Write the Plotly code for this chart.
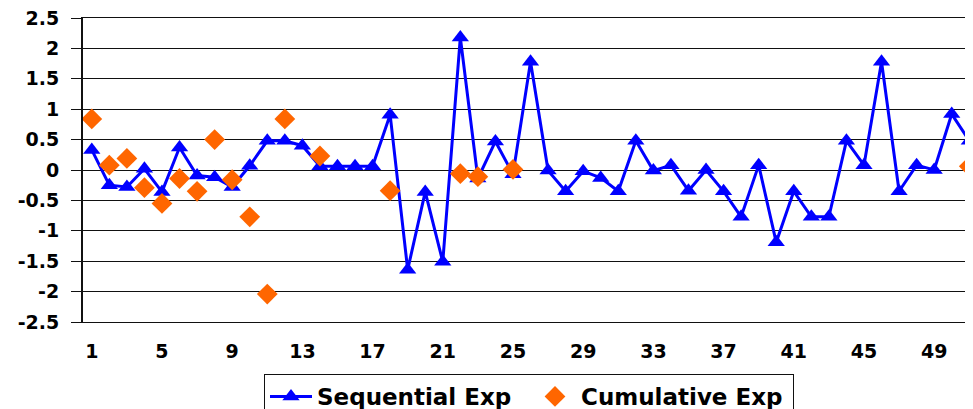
import plotly.graph_objects as go

# categories 1..51 (chart is cropped at the right edge)
categories = list(range(1, 52))

sequential_exp = [0.33, -0.25, -0.28, 0.02, -0.36, 0.37, -0.09, -0.12, -0.28, 0.07,
                  0.48, 0.48, 0.40, 0.06, 0.06, 0.06, 0.06, 0.91, -1.64, -0.36,
                  -1.51, 2.18, -0.14, 0.47, -0.07, 1.78, -0.01, -0.35, -0.02, -0.13,
                  -0.35, 0.48, -0.01, 0.08, -0.34, 0.0, -0.35, -0.77, 0.08, -1.19,
                  -0.35, -0.77, -0.77, 0.48, 0.08, 1.78, -0.35, 0.08, 0.0, 0.92, 0.48]

cumulative_exp = [0.84, 0.08, 0.19, -0.29, -0.55, -0.14, -0.35, 0.50, -0.16, -0.77,
                  -2.04, 0.84, None, 0.23, None, None, None, -0.34, None, None,
                  None, -0.06, -0.11, None, 0.01] + [None] * 25 + [0.06]

x_tickvals = [1, 5, 9, 13, 17, 21, 25, 29, 33, 37, 41, 45, 49]
y_tickvals = [2.5, 2, 1.5, 1, 0.5, 0, -0.5, -1, -1.5, -2, -2.5]
y_ticktext = ["2.5", "2", "1.5", "1", "0.5", "0", "-0.5", "-1", "-1.5", "-2", "-2.5"]

FONT = "DejaVu Sans"
LINE = "#111111"
x_range = [0.5, 0.5 + 890 / 17.55]

fig = go.Figure()

fig.add_trace(go.Scatter(
    x=categories,
    y=sequential_exp,
    mode="lines+markers",
    name="Sequential Exp",
    line=dict(color="#0000FF", width=3),
    marker=dict(symbol="triangle-up", size=15, color="#0000FF"),
))

fig.add_trace(go.Scatter(
    x=categories,
    y=cumulative_exp,
    mode="markers",
    name="Cumulative Exp",
    marker=dict(symbol="diamond", size=16, color="#FF6600"),
))

# page body has an 8px margin, so the figure is sized/placed to compensate
fig.update_layout(
    width=965,
    height=401,
    margin=dict(l=75, r=0, t=10, b=87, autoexpand=False),
    paper_bgcolor="white",
    plot_bgcolor="white",
    showlegend=True,
    legend=dict(
        orientation="h",
        x=(264 - 83) / 890, xanchor="left",
        y=-(374 - 322) / 304, yanchor="top",
        bordercolor=LINE, borderwidth=1,
        itemwidth=42,
        entrywidth=207,
        font=dict(family=FONT, size=23, color="black", weight="bold"),
        itemsizing="trace",
    ),
    xaxis=dict(
        range=x_range,
        tickvals=x_tickvals,
        ticks="",
        showgrid=False,
        zeroline=False,
        showline=True, linecolor=LINE, linewidth=1, mirror=True,
        ticklabelstandoff=12,
        ticklabeloverflow="allow",
        tickfont=dict(family=FONT, size=19, color="black", weight="bold"),
    ),
    # tick marks sitting on the zero line, between categories
    xaxis2=dict(
        overlaying="x",
        anchor="free",
        position=0.5,
        range=x_range,
        tickvals=[c + 0.5 for c in categories],
        ticks="outside", ticklen=5, tickwidth=1, tickcolor=LINE,
        showticklabels=False,
        showgrid=False,
        zeroline=False,
        showline=False,
    ),
    yaxis=dict(
        range=[-2.5, 2.5],
        tickvals=y_tickvals,
        ticktext=y_ticktext,
        ticks="outside", ticklen=10, tickcolor=LINE, tickwidth=1,
        showgrid=True, gridcolor=LINE, gridwidth=1,
        zeroline=True, zerolinecolor=LINE, zerolinewidth=1,
        showline=True, linecolor=LINE, linewidth=2,
        ticklabelstandoff=8,
        ticklabeloverflow="allow",
        tickfont=dict(family=FONT, size=19, color="black", weight="bold"),
    ),
)

fig.write_html("out.html")
